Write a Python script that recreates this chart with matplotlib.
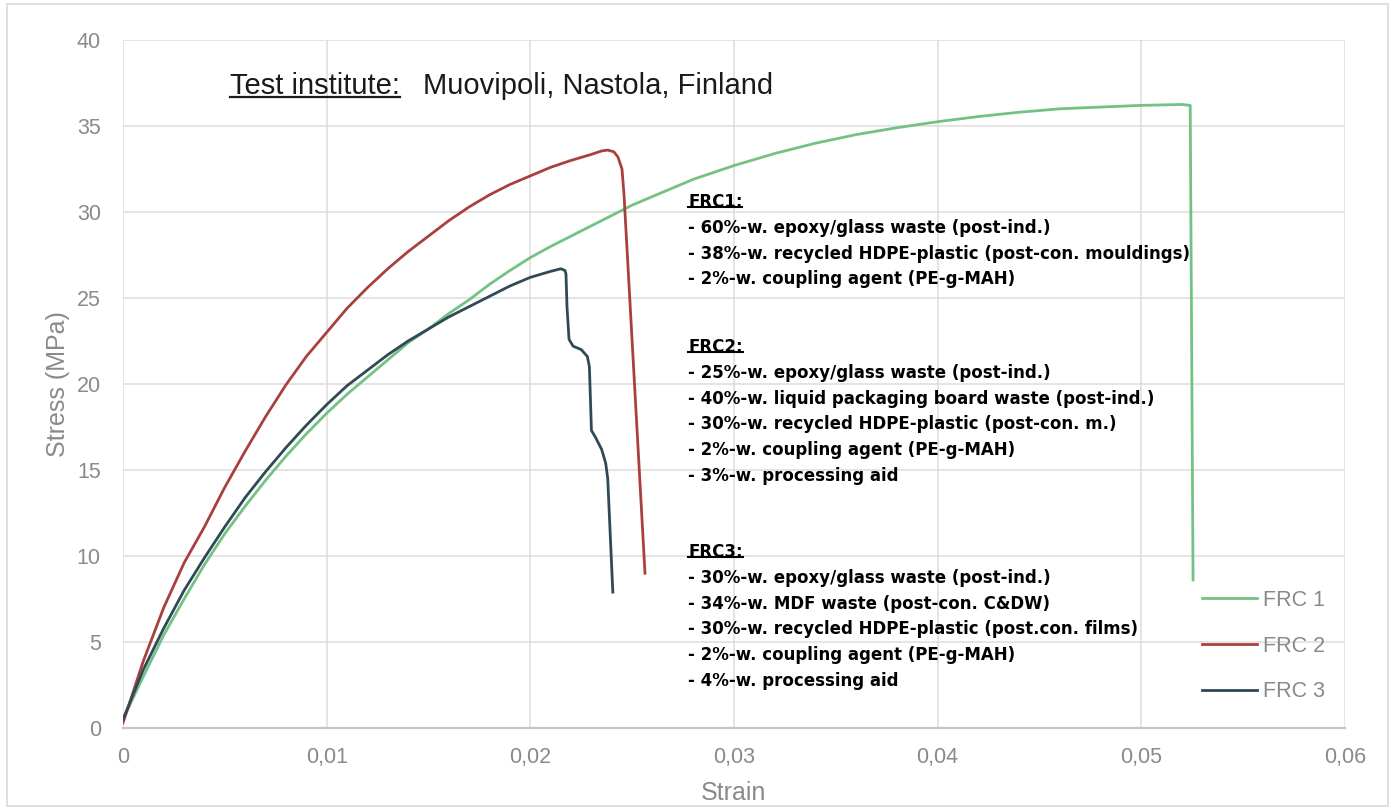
import matplotlib
matplotlib.use("Agg")
import matplotlib.pyplot as plt
from matplotlib.lines import Line2D
from matplotlib.patches import Rectangle

plt.rcParams['font.family'] = ['Liberation Sans', 'DejaVu Sans']

# stress-strain readings (strain [-], stress [MPa])
frc1_strain = [0, 0.001, 0.002, 0.003, 0.004, 0.005, 0.006, 0.007, 0.008, 0.009,
               0.010, 0.011, 0.012, 0.013, 0.014, 0.015, 0.016, 0.017, 0.018, 0.019,
               0.020, 0.021, 0.022, 0.023, 0.024, 0.025, 0.026, 0.027, 0.028, 0.029,
               0.030, 0.032, 0.034, 0.036, 0.038, 0.040, 0.042, 0.044, 0.046, 0.048,
               0.050, 0.052, 0.0524, 0.05254]
frc1_stress = [0.5, 3.0, 5.4, 7.5, 9.5, 11.3, 12.9, 14.4, 15.8, 17.1,
               18.3, 19.4, 20.4, 21.4, 22.4, 23.2, 24.1, 24.9, 25.8, 26.6,
               27.35, 28.0, 28.6, 29.2, 29.8, 30.4, 30.9, 31.4, 31.9, 32.3,
               32.7, 33.4, 34.0, 34.5, 34.9, 35.25, 35.55, 35.8, 36.0, 36.1,
               36.2, 36.25, 36.2, 8.6]

frc2_strain = [0, 0.001, 0.002, 0.003, 0.004, 0.005, 0.006, 0.007, 0.008, 0.009,
               0.010, 0.011, 0.012, 0.013, 0.014, 0.015, 0.016, 0.017, 0.018, 0.019,
               0.020, 0.021, 0.022, 0.023, 0.0235, 0.0238, 0.0241, 0.0243, 0.0245,
               0.0246, 0.02563]
frc2_stress = [0.3, 3.9, 7.0, 9.6, 11.7, 14.0, 16.1, 18.1, 19.95, 21.6,
               23.0, 24.4, 25.6, 26.7, 27.7, 28.6, 29.5, 30.3, 31.0, 31.6,
               32.1, 32.6, 33.0, 33.35, 33.55, 33.6, 33.5, 33.2, 32.5,
               31.0, 9.0]

frc3_strain = [0, 0.001, 0.002, 0.003, 0.004, 0.005, 0.006, 0.007, 0.008, 0.009,
               0.010, 0.011, 0.012, 0.013, 0.014, 0.015, 0.016, 0.017, 0.018, 0.019,
               0.020, 0.021, 0.0215, 0.0217, 0.02175, 0.0218, 0.0219, 0.0221, 0.0225,
               0.0228, 0.0229, 0.0230, 0.0232, 0.0235, 0.0237, 0.0238, 0.02405]
frc3_stress = [0.5, 3.4, 5.8, 8.0, 9.9, 11.7, 13.4, 14.9, 16.3, 17.6,
               18.8, 19.9, 20.8, 21.7, 22.5, 23.2, 23.9, 24.5, 25.1, 25.7,
               26.2, 26.55, 26.7, 26.6, 26.4, 24.5, 22.6, 22.2, 22.0,
               21.6, 21.0, 17.3, 16.9, 16.2, 15.4, 14.5, 7.9]

series_names = ['FRC 1', 'FRC 2', 'FRC 3']
series_colors = ['#74c283', '#a9403f', '#2f4a56']

x_ticks = [0, 0.01, 0.02, 0.03, 0.04, 0.05, 0.06]
x_tick_labels = ['0', '0,01', '0,02', '0,03', '0,04', '0,05', '0,06']
y_ticks = [0, 5, 10, 15, 20, 25, 30, 35, 40]

frc1_text = ['- 60%-w. epoxy/glass waste (post-ind.)',
             '- 38%-w. recycled HDPE-plastic (post-con. mouldings)',
             '- 2%-w. coupling agent (PE-g-MAH)']
frc2_text = ['- 25%-w. epoxy/glass waste (post-ind.)',
             '- 40%-w. liquid packaging board waste (post-ind.)',
             '- 30%-w. recycled HDPE-plastic (post-con. m.)',
             '- 2%-w. coupling agent (PE-g-MAH)',
             '- 3%-w. processing aid']
frc3_text = ['- 30%-w. epoxy/glass waste (post-ind.)',
             '- 34%-w. MDF waste (post-con. C&DW)',
             '- 30%-w. recycled HDPE-plastic (post.con. films)',
             '- 2%-w. coupling agent (PE-g-MAH)',
             '- 4%-w. processing aid']

W, H = 1394, 810
fig = plt.figure(figsize=(W / 100, H / 100), dpi=100)
ax = fig.add_axes([123 / W, 1 - 728 / H, (1345 - 123) / W, (728 - 40) / H])

grey = '#8a8a8a'
ax.plot(frc1_strain, frc1_stress, color=series_colors[0], lw=2.0, label=series_names[0])
ax.plot(frc2_strain, frc2_stress, color=series_colors[1], lw=2.0, label=series_names[1])
ax.plot(frc3_strain, frc3_stress, color=series_colors[2], lw=2.0, label=series_names[2])

ax.set_xlim(0, 0.06)
ax.set_ylim(0, 40)
ax.set_xticks(x_ticks)
ax.set_xticklabels(x_tick_labels)
ax.set_yticks(y_ticks)
ax.tick_params(length=0, labelsize=15.5, labelcolor=grey)
ax.tick_params(axis='x', pad=14)
ax.tick_params(axis='y', pad=16)
ax.grid(True, color='#dcdcdc', lw=1.1)
ax.set_axisbelow(True)
for side in ['top', 'right', 'left']:
    ax.spines[side].set_visible(False)
ax.spines['bottom'].set_color('#c4c4c4')
ax.spines['bottom'].set_linewidth(1.6)

ax.set_xlabel('Strain', fontsize=18, color=grey, labelpad=9)
ax.set_ylabel('Stress (MPa)', fontsize=18, color=grey, labelpad=5)

leg = ax.legend(loc='center left', bbox_to_anchor=((1202 - 123) / 1222, (728 - 646) / 688),
                frameon=False, fontsize=15.5, labelcolor=grey, handlelength=2.55,
                handletextpad=0.3, labelspacing=1.15, borderpad=0, borderaxespad=0)


def ax_y(py):
    return (728 - py) / 688


def ax_x(px):
    return (px - 123) / 1222


underline_targets = []

t = ax.text(ax_x(230), ax_y(86), 'Test institute:', fontsize=21, color='#1a1a1a',
            va='center', ha='left', transform=ax.transAxes)
underline_targets.append((t, 1.6, 0.12))
ax.text(ax_x(423), ax_y(86), 'Muovipoli, Nastola, Finland', fontsize=21, color='#1a1a1a',
        va='center', ha='left', transform=ax.transAxes)

bold_font = ['DejaVu Sans']
blocks = [('FRC1:', 202, frc1_text), ('FRC2:', 347, frc2_text), ('FRC3:', 552, frc3_text)]
for head, py, lines in blocks:
    h = ax.text(ax_x(688), ax_y(py), head, fontsize=12.0, fontweight='bold', color='black',
                family=bold_font, va='center', ha='left', transform=ax.transAxes)
    underline_targets.append((h, 1.5, 0.2))
    for i, line in enumerate(lines):
        ax.text(ax_x(688), ax_y(py + 25.8 * (i + 1)), line, fontsize=12.0, fontweight='bold',
                color='black', family=bold_font, va='center', ha='left',
                transform=ax.transAxes)

# underline selected texts
fig.canvas.draw()
renderer = fig.canvas.get_renderer()
for txt, lw, frac in underline_targets:
    bb = txt.get_window_extent(renderer)
    y = bb.y0 + bb.height * frac
    fig.add_artist(Line2D([bb.x0 / W, bb.x1 / W], [y / H, y / H], color=txt.get_color(),
                          lw=lw, transform=fig.transFigure))

# faint outer frame
fig.add_artist(Rectangle((7 / W, 4 / H), (1388 - 7) / W, (806 - 4) / H, fill=False,
                         edgecolor='#d9d9d9', lw=1.2, transform=fig.transFigure))

fig.savefig('out.png', dpi=100)
